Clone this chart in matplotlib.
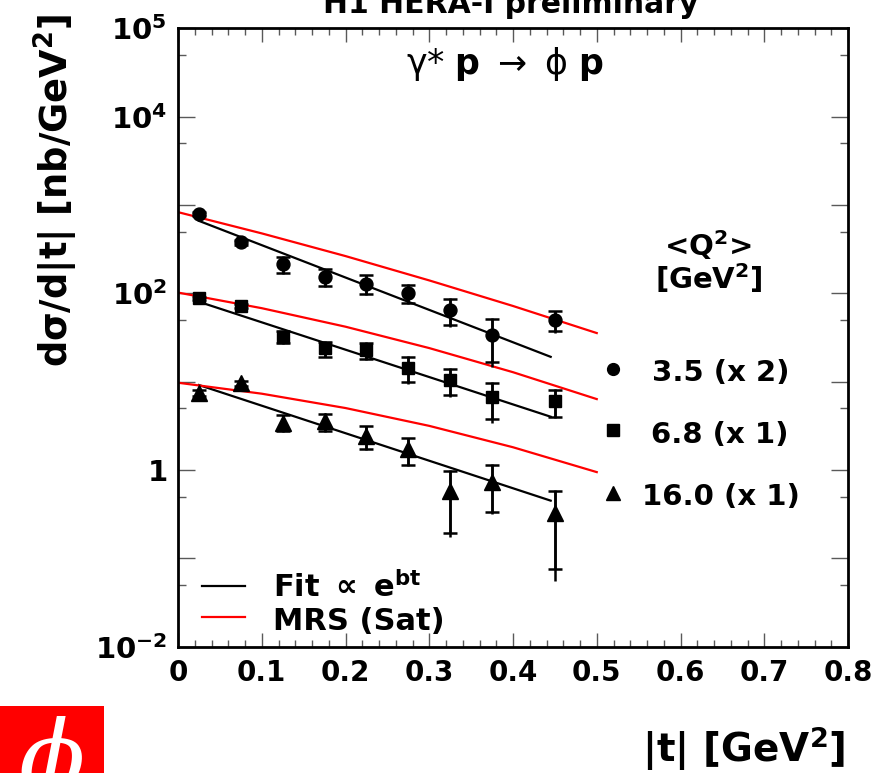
import numpy as np
import matplotlib
matplotlib.use('Agg')
import matplotlib.pyplot as plt
from matplotlib.ticker import FixedLocator, FixedFormatter, NullFormatter, MultipleLocator
from matplotlib.patches import Rectangle

plt.rcParams['font.family'] = ['DejaVu Sans']
plt.rcParams['mathtext.fontset'] = 'dejavusans'
plt.rcParams['mathtext.default'] = 'regular'

# ---------------- data ----------------
t_pts = [0.025, 0.075, 0.125, 0.175, 0.225, 0.275, 0.325, 0.375, 0.45]

q35_val = [787, 377, 214, 154, 129, 101, 64.6, 33.7, 49.8]
q35_stat = [40, 25, 44, 34, 31, 24, 21, 17, 12.5]
q35_tot = [44, 28, 48, 37, 34, 26, 23, 19, 14]

q68_val = [87.5, 72.3, 32.2, 23.8, 22.8, 14.4, 10.4, 6.64, 6.03]
q68_stat = [4.0, 3.5, 5.0, 4.6, 4.8, 4.5, 3.4, 2.9, 2.0]
q68_tot = [4.4, 3.8, 5.4, 5.0, 5.2, 4.9, 3.7, 3.2, 2.2]

q16_val = [7.48, 9.57, 3.45, 3.55, 2.42, 1.71, 0.583, 0.738, 0.326]
q16_stat = [0.55, 0.6, 0.7, 0.8, 0.7, 0.57, 0.39, 0.40, 0.25]
q16_tot = [0.6, 0.65, 0.75, 0.85, 0.75, 0.6, 0.41, 0.42, 0.27]

fit_t = [0.025, 0.445]
fit_q35 = [661, 19.1]
fit_q68 = [80.2, 4.01]
fit_q16 = [9.16, 0.450]

mrs_t = [0.0, 0.1, 0.2, 0.3, 0.4, 0.5]
mrs_q35 = [830, 477, 264, 140, 71.9, 35.5]
mrs_q68 = [102, 67.9, 41.9, 24.0, 12.8, 6.35]
mrs_q16 = [9.73, 7.31, 5.03, 3.16, 1.81, 0.947]

series_labels = ['3.5 (x 2)', '6.8 (x 1)', '16.0 (x 1)']
series_markers = ['o', 's', '^']

y_major = [1e-2, 1e-1, 1, 1e1, 1e2, 1e3, 1e4, 1e5]
y_major_labels = [r'$\mathbf{10^{-2}}$', '', r'$\mathbf{1}$', '', r'$\mathbf{10^{2}}$', '',
                  r'$\mathbf{10^{4}}$', r'$\mathbf{10^{5}}$']
y_minor = [5e-3, 5e-2, 5e-1, 5, 50, 500, 5e3, 5e4]
x_ticks = [0, 0.1, 0.2, 0.3, 0.4, 0.5, 0.6, 0.7, 0.8]
x_tick_labels = ['0', '0.1', '0.2', '0.3', '0.4', '0.5', '0.6', '0.7', '0.8']

# ---------------- figure ----------------
W, H = 890, 773
fig = plt.figure(figsize=(W / 100, H / 100), dpi=100)
ax = fig.add_axes([178 / W, 1 - 646.7 / H, (848 - 178) / W, (646.7 - 28.3) / H])

def fx(px):
    return px / W

def fy(py):
    return 1 - py / H

ax.set_yscale('log')
ax.set_xlim(0, 0.8)
ax.set_ylim(1e-2, 1e5)

marker_sizes = {'o': 9.3, 's': 9.0, '^': 11.0}
for vals, stat, tot, mk in zip([q35_val, q68_val, q16_val],
                               [q35_stat, q68_stat, q16_stat],
                               [q35_tot, q68_tot, q16_tot], series_markers):
    ax.errorbar(t_pts, vals, yerr=tot, fmt='none', ecolor='black', elinewidth=1.8,
                capsize=0, zorder=3)
    ax.errorbar(t_pts, vals, yerr=stat, fmt='none', ecolor='black', elinewidth=1.8,
                capsize=5, capthick=1.8, zorder=3)
    ax.plot(t_pts, vals, linestyle='none', marker=mk, ms=marker_sizes[mk], color='black',
            zorder=4)

for fv in [fit_q35, fit_q68, fit_q16]:
    ax.plot(fit_t, fv, color='black', lw=1.6, zorder=2)
for mv in [mrs_q35, mrs_q68, mrs_q16]:
    ax.plot(mrs_t, mv, color='#ff0000', lw=1.6, zorder=2)

# ticks
ax.yaxis.set_major_locator(FixedLocator(y_major))
ax.yaxis.set_major_formatter(FixedFormatter(y_major_labels))
ax.yaxis.set_minor_locator(FixedLocator(y_minor))
ax.yaxis.set_minor_formatter(NullFormatter())
ax.xaxis.set_major_locator(FixedLocator(x_ticks))
ax.xaxis.set_major_formatter(FixedFormatter(x_tick_labels))
ax.xaxis.set_minor_locator(MultipleLocator(0.02))

ax.tick_params(axis='both', which='both', direction='in', top=True, right=True,
               color='0.35', width=1.0)
ax.tick_params(axis='y', which='major', length=12.5, labelsize=21, pad=8)
ax.tick_params(axis='y', which='minor', length=6)
ax.tick_params(axis='x', which='major', length=10, labelsize=20, pad=9)
ax.tick_params(axis='x', which='minor', length=5)
for lab in ax.get_xticklabels():
    lab.set_fontweight('bold')
for sp in ax.spines.values():
    sp.set_linewidth(2.0)

# ---------------- texts ----------------
fig.text(fx(511), fy(13), 'H1 HERA-I preliminary', ha='center', va='baseline',
         fontsize=21.5, fontweight='bold')
fig.text(fx(505), fy(64), r'$\gamma$* $\mathbf{p}$ $\rightarrow$ $\phi$ $\mathbf{p}$',
         ha='center', va='center', fontsize=25)
fig.text(fx(56), fy(190), r'd$\mathbf{\sigma}$/d|t| [nb/GeV$^{\mathbf{2}}$]', rotation=90,
         ha='center', va='center', fontsize=26.5, fontweight='bold')
fig.text(fx(845), fy(762), r'|t| [GeV$^{\mathbf{2}}$]', ha='right', va='baseline',
         fontsize=28, fontweight='bold')

# Q2 legend
fig.text(fx(708), fy(245), r'<Q$^{\mathbf{2}}$>', ha='center', va='center',
         fontsize=21, fontweight='bold')
fig.text(fx(709), fy(278), r'[GeV$^{\mathbf{2}}$]', ha='center', va='center',
         fontsize=21, fontweight='bold')
leg_y = [368.5, 430, 493]
leg_base = [381, 442.5, 505]
leg_x = [651.7, 651, 641.7]
leg_ms = {'o': 8.5, 's': 8.0, '^': 9.5}
for lab, mk, ly, lb, lx in zip(series_labels, series_markers, leg_y, leg_base, leg_x):
    fig.lines.append(plt.Line2D([fx(613)], [fy(ly)], marker=mk, ms=leg_ms[mk], color='black',
                                linestyle='none', transform=fig.transFigure))
    fig.text(fx(lx), fy(lb), lab, ha='left', va='baseline', fontsize=21, fontweight='bold')

# line legend
fig.lines.append(plt.Line2D([fx(201.5), fx(245)], [fy(586), fy(586)], color='black', lw=1.6,
                            transform=fig.transFigure))
fig.lines.append(plt.Line2D([fx(201.5), fx(245)], [fy(617), fy(617)], color='#ff0000', lw=1.6,
                            transform=fig.transFigure))
fig.text(fx(273), fy(597), r'Fit $\propto$ e$^{\mathbf{bt}}$', ha='left', va='baseline',
         fontsize=22, fontweight='bold')
fig.text(fx(273), fy(630), 'MRS (Sat)', ha='left', va='baseline',
         fontsize=22, fontweight='bold')

# H1 logo
logo = Rectangle((0, 0), fx(104), fy(706), transform=fig.transFigure,
                 facecolor='#ff0000', edgecolor='none')
fig.patches.append(logo)
lt = fig.text(fx(52), fy(790), '\u03d5', ha='center', va='baseline', color='white',
              fontsize=70, family='DejaVu Serif', style='italic')
lt.set_clip_path(logo)

fig.savefig('out.png', dpi=100)
